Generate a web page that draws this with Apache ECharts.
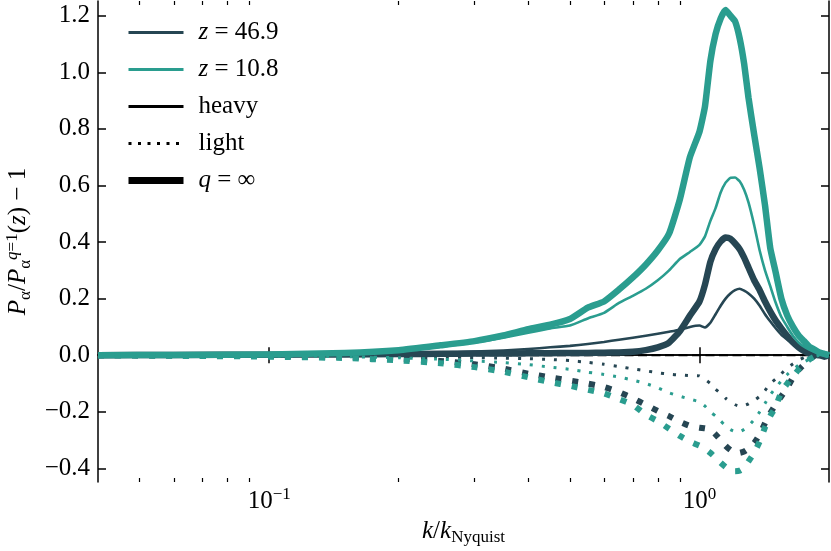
<!DOCTYPE html>
<html>
<head>
<meta charset="utf-8">
<script src="https://cdn.jsdelivr.net/npm/echarts@6/dist/echarts.min.js"></script>
<style>html,body{margin:0;padding:0;background:#fff}#c{width:831px;height:551px}</style>
</head>
<body>
<div id="c"></div>
<script>
const kValues = [0.04, 0.06, 0.1, 0.15, 0.2, 0.25, 0.3, 0.35, 0.4, 0.45, 0.5, 0.55, 0.6, 0.65, 0.7, 0.75, 0.8, 0.85, 0.9, 0.95, 1.0, 1.03, 1.06, 1.09, 1.12, 1.15, 1.18, 1.21, 1.24, 1.27, 1.3, 1.34, 1.38, 1.42, 1.46, 1.5, 1.55, 1.6, 1.65, 1.7, 1.75, 1.8, 1.85, 1.9, 1.95, 2.0];

// z = 46.9
const darkHeavy = [0.0, 0.001, 0.002, 0.004, 0.007, 0.01, 0.013, 0.017, 0.022, 0.028, 0.033, 0.04, 0.047, 0.055, 0.062, 0.069, 0.076, 0.083, 0.09, 0.1, 0.105, 0.098, 0.115, 0.145, 0.175, 0.2, 0.218, 0.23, 0.235, 0.228, 0.218, 0.2, 0.175, 0.145, 0.12, 0.097, 0.072, 0.055, 0.038, 0.025, 0.014, 0.006, 0.002, 0.0, -0.003, 0.0];
const darkLight = [0.0, 0.0, -0.001, -0.002, -0.004, -0.006, -0.008, -0.01, -0.012, -0.015, -0.019, -0.025, -0.032, -0.04, -0.048, -0.055, -0.062, -0.067, -0.07, -0.072, -0.073, -0.085, -0.1, -0.12, -0.135, -0.152, -0.165, -0.175, -0.18, -0.178, -0.172, -0.16, -0.145, -0.125, -0.1, -0.085, -0.065, -0.045, -0.03, -0.018, -0.008, 0.0, 0.004, 0.004, 0.0, 0.0];
const darkInf = [0.0, 0.001, 0.002, 0.003, 0.004, 0.005, 0.006, 0.006, 0.007, 0.007, 0.008, 0.008, 0.009, 0.01, 0.012, 0.018, 0.028, 0.045, 0.085, 0.14, 0.19, 0.25, 0.33, 0.375, 0.402, 0.416, 0.412, 0.395, 0.375, 0.345, 0.31, 0.265, 0.23, 0.19, 0.155, 0.125, 0.095, 0.068, 0.045, 0.028, 0.015, 0.006, 0.002, 0.0, -0.005, 0.0];
const darkInfLight = [0.0, -0.001, -0.003, -0.006, -0.012, -0.02, -0.032, -0.047, -0.065, -0.078, -0.09, -0.1, -0.112, -0.13, -0.152, -0.175, -0.197, -0.215, -0.235, -0.25, -0.256, -0.258, -0.262, -0.28, -0.3, -0.32, -0.335, -0.343, -0.345, -0.34, -0.33, -0.31, -0.28, -0.24, -0.205, -0.176, -0.145, -0.115, -0.078, -0.052, -0.033, -0.015, -0.003, 0.0, 0.0, 0.0];

// z = 10.8
const tealHeavy = [0.0, 0.001, 0.003, 0.007, 0.016, 0.03, 0.045, 0.062, 0.08, 0.095, 0.105, 0.13, 0.15, 0.185, 0.21, 0.235, 0.265, 0.3, 0.34, 0.365, 0.39, 0.42, 0.475, 0.52, 0.575, 0.61, 0.627, 0.628, 0.615, 0.585, 0.54, 0.46, 0.37, 0.3, 0.245, 0.19, 0.135, 0.1, 0.068, 0.045, 0.03, 0.02, 0.012, 0.005, 0.0, 0.0];
const tealLight = [0.0, -0.001, -0.002, -0.005, -0.009, -0.014, -0.02, -0.026, -0.033, -0.042, -0.05, -0.06, -0.068, -0.077, -0.088, -0.1, -0.115, -0.133, -0.145, -0.155, -0.165, -0.18, -0.2, -0.215, -0.232, -0.25, -0.263, -0.27, -0.27, -0.262, -0.25, -0.228, -0.2, -0.17, -0.14, -0.117, -0.09, -0.068, -0.05, -0.035, -0.024, -0.014, -0.005, 0.0, 0.0, 0.0];
const tealInf = [0.0, 0.001, 0.003, 0.008, 0.018, 0.035, 0.05, 0.07, 0.092, 0.108, 0.128, 0.168, 0.19, 0.232, 0.275, 0.32, 0.37, 0.43, 0.55, 0.7, 0.79, 0.88, 1.04, 1.135, 1.19, 1.22, 1.2, 1.18, 1.12, 1.03, 0.91, 0.78, 0.66, 0.53, 0.38, 0.3, 0.2, 0.14, 0.1, 0.07, 0.05, 0.03, 0.02, 0.01, 0.005, 0.0];
const tealInfLight = [0.0, -0.002, -0.005, -0.01, -0.018, -0.028, -0.042, -0.058, -0.078, -0.095, -0.108, -0.122, -0.135, -0.155, -0.175, -0.21, -0.233, -0.26, -0.285, -0.305, -0.32, -0.33, -0.345, -0.362, -0.38, -0.395, -0.405, -0.41, -0.408, -0.398, -0.375, -0.345, -0.305, -0.255, -0.215, -0.185, -0.13, -0.1, -0.075, -0.05, -0.03, -0.015, -0.005, 0.0, 0.005, 0.0];

const xMajorTicks = [0.1, 1];
const xMinorTicks = [0.05, 0.06, 0.07, 0.08, 0.09, 0.2, 0.3, 0.4, 0.5, 0.6, 0.7, 0.8, 0.9];
const yTicks = [-0.4, -0.2, 0.0, 0.2, 0.4, 0.6, 0.8, 1.0, 1.2];
const legendNames = ['z46', 'z10', 'heavy', 'light', 'qinf'];

const DARK = '#264653', TEAL = '#2a9d8f';
const FONT = 'Liberation Serif';
const FS = 25;
const X_MIN = 0.04, X_MAX = 2.0, Y_MIN = -0.448, Y_MAX = 1.252;

function pairs(arr) { return kValues.map((k, i) => [k, arr[i]]); }

const axisLineStyle = { color: '#000', width: 1.5 };
const richBase = {
  n: { fontFamily: FONT, fontSize: FS, color: '#000', lineHeight: 30 },
  i: { fontFamily: FONT, fontSize: FS, fontStyle: 'italic', color: '#000', lineHeight: 30 },
  sup: { fontFamily: FONT, fontSize: 17, color: '#000', verticalAlign: 'top', lineHeight: 14 },
  supi: { fontFamily: FONT, fontSize: 17, fontStyle: 'italic', color: '#000', verticalAlign: 'top', lineHeight: 14 },
  sub: { fontFamily: FONT, fontSize: 17, color: '#000', verticalAlign: 'bottom', lineHeight: 12 },
  subi: { fontFamily: FONT, fontSize: 17, fontStyle: 'italic', color: '#000', verticalAlign: 'bottom', lineHeight: 12 }
};

function expLabel(v) {
  const e = Math.round(Math.log10(v));
  return '{n|10}{sup|' + (e < 0 ? '−' + Math.abs(e) : e) + '}';
}

function xAxisDef(pos, major, showLabel) {
  return {
    type: 'log', logBase: 10, min: X_MIN, max: X_MAX, position: pos, gridIndex: 0,
    axisLine: { show: major, lineStyle: axisLineStyle },
    axisTick: { show: true, inside: true, length: major ? 8 : 4,
      customValues: major ? xMajorTicks : xMinorTicks,
      lineStyle: { color: '#000', width: major ? 1.5 : 1.2 } },
    axisLabel: showLabel ? {
      show: true, customValues: xMajorTicks, margin: 4,
      formatter: expLabel,
      rich: { n: { fontFamily: FONT, fontSize: FS, color: '#000', lineHeight: 30 },
              sup: { fontFamily: FONT, fontSize: 17, color: '#000', verticalAlign: 'top', lineHeight: 20 } }
    } : { show: false },
    splitLine: { show: false },
    name: showLabel ? '{i|k}{n|/}{i|k}{sub|Nyquist}' : '',
    nameLocation: 'middle', nameGap: 34,
    nameTextStyle: { rich: richBase }
  };
}

function yAxisDef(pos, showLabel) {
  return {
    type: 'value', min: Y_MIN, max: Y_MAX, position: pos, gridIndex: 0,
    axisLine: { show: true, lineStyle: axisLineStyle },
    axisTick: { show: true, inside: true, length: 8, customValues: yTicks, lineStyle: { color: '#000', width: 1.5 } },
    axisLabel: showLabel ? {
      show: true, customValues: yTicks, margin: 8,
      fontFamily: FONT, fontSize: FS, color: '#000',
      formatter: v => (v < -1e-9 ? '−' : '') + Math.abs(v).toFixed(1)
    } : { show: false },
    splitLine: { show: false },
    name: showLabel ? '{i|P}{sub|α}{n|/}{i|P}{sub|α}{supi|q}{sup|=1}{n|(}{i|z}{n|) − 1}' : '',
    nameLocation: 'middle', nameGap: 62, nameRotate: 90,
    nameTextStyle: { rich: richBase }
  };
}

function lineSeries(name, arr, color, width, dotted) {
  return {
    name: name, type: 'line', xAxisIndex: 0, yAxisIndex: 0,
    data: pairs(arr), showSymbol: false, symbol: 'none', silent: true, smooth: 0.15,
    lineStyle: { color: color, width: width, type: dotted ? (width > 4 ? [6, 11] : [3, 9]) : 'solid', cap: 'butt', join: 'round' },
    z: 3
  };
}

function legendSeries(name, color, width, type) {
  return { name: name, type: 'line', data: [], symbol: 'none', showSymbol: false, legendIcon: 'none',
    itemStyle: { color: color, opacity: 0 }, lineStyle: { color: color, width: width, type: type, opacity: 1 } };
}

const legendLabels = {
  z46: '{i|z}{n| = 46.9}',
  z10: '{i|z}{n| = 10.8}',
  heavy: '{n|heavy}',
  light: '{n|light}',
  qinf: '{i|q}{n| = ∞}'
};

const option = {
  animation: false,
  backgroundColor: '#fff',
  grid: { left: 98, right: 2, top: 1, bottom: 69, containLabel: false, outerBoundsMode: 'none' },
  xAxis: [xAxisDef('bottom', true, true), xAxisDef('top', true, false), xAxisDef('bottom', false, false), xAxisDef('top', false, false)],
  yAxis: [yAxisDef('left', true), yAxisDef('right', false)],
  legend: {
    show: true, orient: 'vertical', left: 120, top: 15,
    itemWidth: 55, itemHeight: 14, itemGap: 12,
    selectedMode: false,
    itemStyle: { opacity: 0 },
    data: [
      { name: 'z46', lineStyle: { width: 3 } },
      { name: 'z10', lineStyle: { width: 3 } },
      { name: 'heavy', lineStyle: { width: 3 } },
      { name: 'light', lineStyle: { width: 3, type: [3, 6.5] } },
      { name: 'qinf', lineStyle: { width: 7 } }
    ],
    formatter: name => legendLabels[name],
    textStyle: { padding: [0, 0, 0, 10], lineHeight: 24, rich: {
      n: { fontFamily: FONT, fontSize: FS, color: '#000', lineHeight: 24 },
      i: { fontFamily: FONT, fontSize: FS, fontStyle: 'italic', color: '#000', lineHeight: 24 } } }
  },
  series: [
    {
      name: 'zero', type: 'line', xAxisIndex: 0, yAxisIndex: 0, data: [[X_MIN, 0], [X_MAX, 0]],
      symbol: 'none', silent: true, z: 1,
      lineStyle: { color: '#000', width: 2.2, type: [9, 4.5] }
    },
    lineSeries('dH', darkHeavy, DARK, 2.6, false),
    lineSeries('dL', darkLight, DARK, 3, true),
    lineSeries('dI', darkInf, DARK, 6.5, false),
    lineSeries('dIL', darkInfLight, DARK, 6, true),
    lineSeries('tH', tealHeavy, TEAL, 2.6, false),
    lineSeries('tL', tealLight, TEAL, 3, true),
    lineSeries('tI', tealInf, TEAL, 6.5, false),
    lineSeries('tIL', tealInfLight, TEAL, 6, true),
    legendSeries('z46', DARK, 3, 'solid'),
    legendSeries('z10', TEAL, 3, 'solid'),
    legendSeries('heavy', '#000', 3, 'solid'),
    legendSeries('light', '#000', 3, [3, 6.5]),
    legendSeries('qinf', '#000', 7, 'solid')
  ]
};

const chart = echarts.init(document.getElementById('c'), null, { renderer: 'canvas' });
chart.setOption(option);
</script>
</body>
</html>
